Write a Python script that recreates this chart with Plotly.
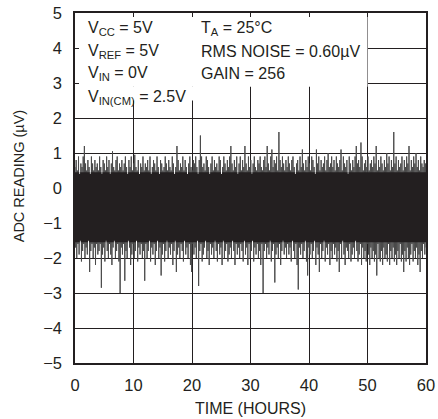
import numpy as np
import plotly.graph_objects as go

# Noise trace: alternating upper / lower excursions (µV)
noise_hi = [
    0.6, 0.8, 0.5, 0.9, 0.4, 0.7, 0.6, 0.9, 1.2, 0.7, 0.5, 0.8, 0.6, 0.4, 0.9, 0.7, 0.5, 0.8, 0.6, 0.7,
    0.5, 0.9, 0.6, 0.4, 0.8, 0.7, 0.5, 0.9, 0.6, 0.8, 0.4, 0.7, 1.05, 0.6, 0.5, 0.8, 0.9, 0.5, 0.7, 0.6,
    0.8, 0.5, 0.7, 0.9, 0.6, 0.4, 0.8, 0.6, 0.9, 0.5, 0.7, 0.95, 0.6, 0.5, 0.8, 0.4, 0.7, 0.6, 0.9, 0.5,
    0.7, 0.6, 0.8, 0.5, 0.9, 0.4, 0.6, 0.8, 0.7, 0.5, 0.9, 0.6, 0.4, 0.8, 0.7, 0.5, 0.6, 0.9, 0.7, 0.5,
    0.8, 0.6, 0.5, 0.9, 0.7, 0.4, 0.6, 1.2, 0.8, 0.5, 0.7, 0.6, 0.9, 0.5, 0.8, 0.6, 0.4, 0.7, 0.9, 0.6,
    0.5, 0.8, 0.7, 0.9, 0.6, 0.4, 0.8, 1.5, 0.9, 0.6, 0.7, 0.5, 0.9, 0.8, 0.6, 0.4, 0.7, 0.9, 0.5, 0.8,
    0.6, 0.7, 0.5, 0.9, 0.8, 0.4, 0.6, 0.9, 0.7, 0.5, 0.8, 0.6, 0.9, 1.2, 0.7, 0.5, 0.8, 0.6, 0.9, 0.4,
    0.7, 0.9, 0.5, 0.8, 0.6, 1.2, 0.7, 0.5, 0.9, 0.6, 0.8, 0.4, 0.7, 0.9, 0.6, 0.5, 0.8, 0.7, 0.9, 0.6,
    0.5, 0.8, 0.9, 0.6, 1.2, 0.7, 0.5, 0.9, 1.1, 0.6, 0.8, 0.7, 0.9, 0.5, 1.6, 0.8, 0.6, 0.9, 0.7, 0.5,
    0.8, 0.6, 0.9, 0.7, 0.5, 0.8, 0.9, 0.6, 0.4, 0.7, 0.8, 0.5, 0.9, 0.6, 1.1, 0.7, 0.5, 0.8, 0.6, 0.9,
    0.7, 0.5, 0.9, 0.8, 0.6, 0.4, 1.1, 0.7, 0.9, 0.5, 0.8, 0.6, 0.7, 0.9, 0.5, 0.8, 1.0, 0.6, 0.7, 0.9,
    0.6, 0.8, 0.5, 0.9, 0.7, 0.6, 0.8, 1.1, 0.5, 0.9, 0.7, 0.6, 0.8, 0.4, 0.9, 0.7, 0.5, 0.8, 0.6, 0.9,
    1.2, 0.7, 0.8, 0.6, 1.3, 0.9, 0.5, 0.7, 0.8, 0.6, 0.9, 0.5, 0.7, 0.8, 0.6, 0.9, 0.7, 1.2, 0.5, 0.8,
    0.6, 0.9, 0.7, 0.5, 0.8, 0.6, 1.0, 0.7, 0.9, 0.5, 0.8, 0.6, 1.6, 0.7, 0.9, 0.5, 0.8, 0.6, 0.7, 0.9,
    0.5, 0.8, 0.6, 0.9, 0.7, 1.2, 0.5, 0.8, 0.6, 0.9, 0.7, 1.0, 0.6, 0.8, 0.5, 0.9, 0.7, 0.6, 0.8, 0.7,
]
noise_lo = [
    -1.7, -2.0, -1.6, -1.9, -1.5, -2.1, -1.8, -1.6, -2.0, -1.7, -1.9, -1.5, -2.4, -1.8, -1.6, -2.0, -1.7, -2.2, -1.6, -1.9,
    -1.8, -1.6, -2.85, -1.9, -1.7, -2.1, -1.5, -1.8, -2.0, -1.6, -1.9, -2.2, -1.7, -1.5, -2.0, -1.8, -1.6, -2.1, -3.0, -1.7,
    -1.9, -1.6, -2.65, -1.8, -2.0, -1.5, -1.7, -2.2, -1.9, -1.6, -2.0, -1.8, -1.5, -2.1, -1.7, -1.9, -1.6, -2.0, -1.8, -2.65,
    -1.6, -2.0, -1.8, -1.5, -2.1, -1.7, -1.9, -1.6, -2.2, -1.8, -1.5, -2.0, -1.7, -2.5, -1.9, -1.6, -2.1, -1.8, -1.5, -2.0,
    -1.7, -1.9, -1.6, -2.2, -1.8, -1.5, -2.4, -1.9, -1.7, -2.0, -1.6, -1.8, -2.1, -1.5, -1.9, -1.7, -2.0, -1.6, -2.2, -2.4,
    -1.6, -1.9, -1.7, -2.0, -1.5, -2.8, -1.8, -1.6, -2.1, -1.9, -1.7, -1.5, -2.0, -1.8, -2.2, -1.6, -1.9, -1.7, -2.0, -1.5,
    -1.8, -2.1, -1.6, -1.9, -1.7, -2.2, -1.5, -2.0, -1.8, -1.6, -2.1, -1.9, -1.7, -2.0, -1.5, -1.8, -2.2, -1.6, -1.9, -1.7,
    -2.0, -1.6, -1.8, -2.1, -1.5, -1.9, -1.7, -2.2, -1.6, -2.0, -1.8, -1.5, -2.1, -1.7, -1.9, -1.6, -2.0, -1.8, -2.2, -1.6,
    -3.0, -1.8, -1.6, -2.0, -1.7, -1.9, -1.5, -2.1, -1.8, -1.6, -2.7, -1.9, -1.7, -2.0, -1.6, -2.2, -1.8, -1.5, -1.9, -1.7,
    -2.0, -1.6, -1.9, -1.7, -2.1, -1.5, -1.8, -2.0, -1.6, -2.2, -2.9, -1.7, -1.9, -1.6, -2.0, -1.8, -1.5, -2.1, -2.5, -1.7,
    -1.9, -1.6, -2.0, -1.8, -1.5, -2.2, -1.7, -1.9, -2.4, -1.6, -2.0, -1.8, -1.5, -2.1, -1.7, -1.9, -1.6, -2.2, -1.8, -2.0,
    -1.6, -1.9, -1.7, -2.1, -1.8, -2.4, -1.6, -2.0, -1.5, -1.9, -2.2, -1.7, -1.8, -2.0, -1.6, -2.1, -1.9, -1.7, -2.0, -1.5,
    -1.8, -2.1, -1.9, -1.6, -2.2, -1.7, -2.0, -1.8, -2.1, -1.6, -1.9, -2.2, -1.7, -2.0, -1.8, -2.1, -1.9, -2.5, -1.6, -2.0,
    -2.1, -1.8, -2.2, -1.7, -2.0, -1.9, -2.1, -1.6, -2.2, -1.8, -2.0, -1.7, -2.1, -1.9, -2.2, -1.8, -2.0, -1.6, -2.1, -1.9,
    -2.4, -1.8, -2.1, -1.7, -2.0, -2.2, -1.9, -1.6, -2.1, -1.8, -2.0, -1.7, -2.2, -1.9, -2.4, -1.8, -2.0, -1.6, -1.9, -1.7,
]
time_span_hours = [0, 60]
x_ticks = [0, 10, 20, 30, 40, 50, 60]
y_ticks = [-5, -4, -3, -2, -1, 0, 1, 2, 3, 4, 5]
dense_core = [-1.55, 0.45]   # range where the sampled trace is solid black

INK = "#231f20"
FONT = "Liberation Sans, Arial, sans-serif"

# interleave the upper / lower excursions into one sampled trace
values = np.empty(2 * len(noise_hi))
values[0::2] = noise_hi
values[1::2] = noise_lo
t = np.linspace(time_span_hours[0], time_span_hours[1], len(values))

fig = go.Figure()
fig.add_trace(go.Scatter(x=t, y=values, mode="lines",
                         line=dict(color="#4a4a4a", width=1), hoverinfo="skip",
                         showlegend=False))
fig.add_trace(go.Scatter(x=t, y=np.clip(values, dense_core[0], dense_core[1]), mode="lines",
                         line=dict(color=INK, width=1.4), hoverinfo="skip",
                         showlegend=False))

# white panel behind the condition text (hides grid but not data/axes)
fig.add_shape(type="rect", xref="x", yref="y", x0=0, x1=50, y0=2.89, y1=5,
              fillcolor="white", line=dict(width=0), layer="between")
fig.add_shape(type="rect", xref="x", yref="y", x0=0, x1=21.5, y0=2.5, y1=2.9,
              fillcolor="white", line=dict(width=0), layer="between")

ann_font = dict(family=FONT, size=16, color=INK)
left_lines = [("V<sub>CC</sub> = 5V", 4.57), ("V<sub>REF</sub> = 5V", 3.89),
              ("V<sub>IN</sub> = 0V", 3.26), ("V<sub>IN(CM)</sub> = 2.5V", 2.60)]
right_lines = [("T<sub>A</sub> = 25°C", 4.57), ("RMS NOISE = 0.60µV", 3.89),
               ("GAIN = 256", 3.26)]
for txt, yv in left_lines:
    fig.add_annotation(x=1.9, y=yv, text=txt, showarrow=False, xanchor="left",
                       yanchor="middle", font=ann_font)
for txt, yv in right_lines:
    fig.add_annotation(x=21.2, y=yv, text=txt, showarrow=False, xanchor="left",
                       yanchor="middle", font=ann_font)

# y-axis title (placed slightly above the axis centre, as in the reference)
fig.add_annotation(text="ADC READING (µV)", xref="paper", yref="paper",
                   x=-0.159, y=0.534, xanchor="center", yanchor="middle",
                   textangle=-90, showarrow=False,
                   font=dict(family=FONT, size=14.5, color=INK))

axis_common = dict(showgrid=True, gridcolor=INK, gridwidth=1,
                   showline=True, linecolor=INK, linewidth=1.5, mirror="allticks",
                   ticks="inside", ticklen=4, tickcolor=INK, tickwidth=1,
                   zeroline=False, tickfont=dict(family=FONT, size=16.5, color=INK),
                   automargin=False, ticklabeloverflow="allow")
fig.update_xaxes(range=time_span_hours, tickvals=x_ticks, ticklabelstandoff=6,
                 title=dict(text="TIME (HOURS)", font=dict(family=FONT, size=16, color=INK),
                            standoff=10),
                 **axis_common)
fig.update_yaxes(range=[-5, 5], tickvals=y_ticks, ticklabelstandoff=8,
                 **axis_common)

fig.update_layout(width=438, height=419, margin=dict(l=75, r=12, t=13, b=56),
                  plot_bgcolor="white", paper_bgcolor="white",
                  font=dict(family=FONT, color=INK))

# remove the browser's default 8px page margin so the figure fills the window
fig.write_html("out.html", config={"displayModeBar": False},
               post_script="document.body.style.margin='0';")
